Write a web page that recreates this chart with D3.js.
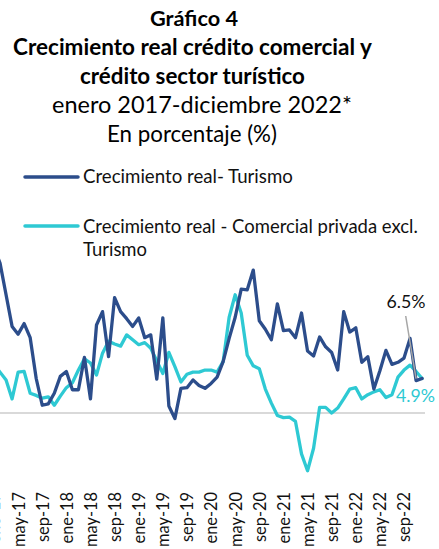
<!DOCTYPE html>
<html>
<head>
<meta charset="utf-8">
<script src="https://cdn.jsdelivr.net/npm/d3@7"></script>
<style>
  body { margin: 0; background: #fff; }
  svg { display: block; }
</style>
</head>
<body>
<script>
const months = ['ene', 'feb', 'mar', 'abr', 'may', 'jun', 'jul', 'ago', 'sep', 'oct', 'nov', 'dic']
const years = ['17', '18', '19', '20', '21', '22']
const tickMonths = ['ene', 'may', 'sep']

// crecimiento real (%), ene-17 .. dic-22
const turismo = [
  23.5, 21.3, 16.8, 12.3, 11.2, 12.7, 10.7, 4.9, 1.1, 1.3, 2.8, 5.2,
  5.9, 3.3, 3.3, 7.9, 2.0, 12.5, 14.4, 8.0, 16.4, 14.4, 13.4, 12.3,
  13.5, 10.7, 11.1, 4.8, 13.5, 1.0, -0.8, 3.5, 3.6, 4.7, 3.9, 3.5,
  4.2, 5.1, 7.3, 10.6, 13.6, 17.6, 17.5, 20.3, 13.1, 11.9, 10.4, 15.5,
  11.7, 11.8, 10.7, 14.2, 8.8, 8.1, 10.8, 9.4, 8.6, 6.1, 14.4, 11.5,
  12.1, 7.2, 8.0, 3.4, 6.0, 8.9, 6.9, 7.2, 7.8, 10.6, 4.6, 4.9
]
const comercial = [
  6.9, 5.8, 4.7, 2.0, 5.8, 5.9, 2.8, 2.5, 2.1, 2.3, 1.1, 2.4,
  3.6, 4.3, 6.1, 7.7, 7.1, 5.4, 8.5, 10.2, 9.8, 9.5, 11.1, 10.4,
  9.7, 10.0, 9.2, 7.4, 5.6, 8.6, 6.6, 4.4, 5.5, 5.8, 5.8, 6.1,
  6.1, 5.8, 7.3, 13.6, 16.8, 14.2, 8.2, 6.7, 6.3, 3.4, 1.4, -0.35,
  -0.65, -0.6, -1.2, -5.8, -8.2, -5.0, 0.8, 0.8, 0.0, 0.7, 2.0, 3.4,
  3.6, 2.0, 2.6, 3.0, 3.3, 2.2, 2.6, 5.1, 6.1, 6.8, 5.9, 4.9
]

const titleLines = [
  'Gráfico 4',
  'Crecimiento real crédito comercial y',
  'crédito sector turístico',
  'enero 2017-diciembre 2022*',
  'En porcentaje (%)'
]
const seriesNames = ['Crecimiento real- Turismo', 'Crecimiento real - Comercial privada excl.', 'Turismo']
const endLabels = ['6.5%', '4.9%']

const colorTur = '#2c4d8b'
const colorCom = '#2ec9d3'
const font = 'Lato, "Open Sans", sans-serif'

const categories = years.flatMap((y) => months.map((m) => `${m}-${y}`))
const width = 439
const height = 549

const x = d3.scalePoint().domain(categories).range([-6, 422.1])
const y = d3.scaleLinear().domain([-10, 25]).range([483.4, 237])

const svg = d3.select('body').append('svg')
  .attr('width', width)
  .attr('height', height)
  .attr('font-family', font)

// sets font-size so that the text is w pixels long
const fit = (sel, w) => {
  const s = parseFloat(sel.attr('font-size'))
  sel.attr('font-size', (s * w) / sel.node().getComputedTextLength())
  return sel
}

// title
const titleSpecs = [
  { cx: 194, base: 26, w: 88, bold: true },
  { cx: 192.5, base: 55, w: 359, bold: true },
  { cx: 192.5, base: 84, w: 225, bold: true },
  { cx: 202, base: 113, w: 300, bold: false },
  { cx: 192, base: 142, w: 170, bold: false }
]
titleLines.forEach((t, i) => {
  const s = titleSpecs[i]
  svg.append('text')
    .attr('x', s.cx)
    .attr('y', s.base)
    .attr('text-anchor', 'middle')
    .attr('font-weight', s.bold ? 700 : 400)
    .attr('font-size', 19)
    .attr('fill', '#000')
    .text(t)
    .call(fit, s.w)
})

// legend
const legend = svg.append('g')
legend.append('line').attr('x1', 25).attr('x2', 78).attr('y1', 177).attr('y2', 177)
  .attr('stroke', colorTur).attr('stroke-width', 3.5).attr('stroke-linecap', 'round')
legend.append('line').attr('x1', 25).attr('x2', 78).attr('y1', 226).attr('y2', 226)
  .attr('stroke', colorCom).attr('stroke-width', 3.5).attr('stroke-linecap', 'round')
const legendSpecs = [
  { y: 183, w: 210 },
  { y: 232.5, w: 335 },
  { y: 256, w: 64 }
]
seriesNames.forEach((t, i) => {
  legend.append('text')
    .attr('x', 83)
    .attr('y', legendSpecs[i].y)
    .attr('font-size', 16)
    .attr('fill', '#111')
    .text(t)
    .call(fit, legendSpecs[i].w)
})

// zero line
svg.append('line')
  .attr('x1', -10).attr('x2', 425)
  .attr('y1', y(0)).attr('y2', y(0))
  .attr('stroke', '#d9d9d9')
  .attr('stroke-width', 2)

// x axis labels
const axis = d3.axisBottom(x)
  .tickValues(categories.filter((c) => tickMonths.includes(c.slice(0, 3))))
  .tickSize(0)
const gx = svg.append('g')
  .attr('transform', 'translate(0,492)')
  .call(axis)
gx.select('.domain').remove()
gx.selectAll('text')
  .attr('font-family', font)
  .attr('fill', '#111')
  .attr('font-size', 16)
  .attr('transform', 'rotate(-90)')
  .attr('x', 0)
  .attr('y', 0)
  .attr('dy', '0.36em')
  .attr('text-anchor', 'end')
const sample = gx.selectAll('text').filter((d) => d === 'may-17')
fit(sample, 55)
gx.selectAll('text').attr('font-size', sample.attr('font-size'))

// lines
const line = (vals) => d3.line()
  .x((d, i) => x(categories[i]))
  .y((d) => y(d))(vals)

svg.append('path')
  .attr('d', line(comercial))
  .attr('fill', 'none')
  .attr('stroke', colorCom)
  .attr('stroke-width', 3.3)
  .attr('stroke-linejoin', 'round')
  .attr('stroke-linecap', 'round')

svg.append('path')
  .attr('d', line(turismo))
  .attr('fill', 'none')
  .attr('stroke', colorTur)
  .attr('stroke-width', 3.3)
  .attr('stroke-linejoin', 'round')
  .attr('stroke-linecap', 'round')

// end labels
const nTur = categories.length - 2
svg.append('line')
  .attr('x1', 405.7).attr('y1', 316)
  .attr('x2', x(categories[nTur])).attr('y2', y(turismo[nTur]) - 2)
  .attr('stroke', '#a6a6a6')
  .attr('stroke-width', 1.5)
svg.append('text')
  .attr('x', 406)
  .attr('y', 308)
  .attr('text-anchor', 'middle')
  .attr('font-size', 16)
  .attr('fill', '#111')
  .text(endLabels[0])
  .call(fit, 39)
svg.append('text')
  .attr('x', 415.5)
  .attr('y', 401.5)
  .attr('text-anchor', 'middle')
  .attr('font-size', 16)
  .attr('fill', colorCom)
  .text(endLabels[1])
  .call(fit, 39)
</script>
</body>
</html>
